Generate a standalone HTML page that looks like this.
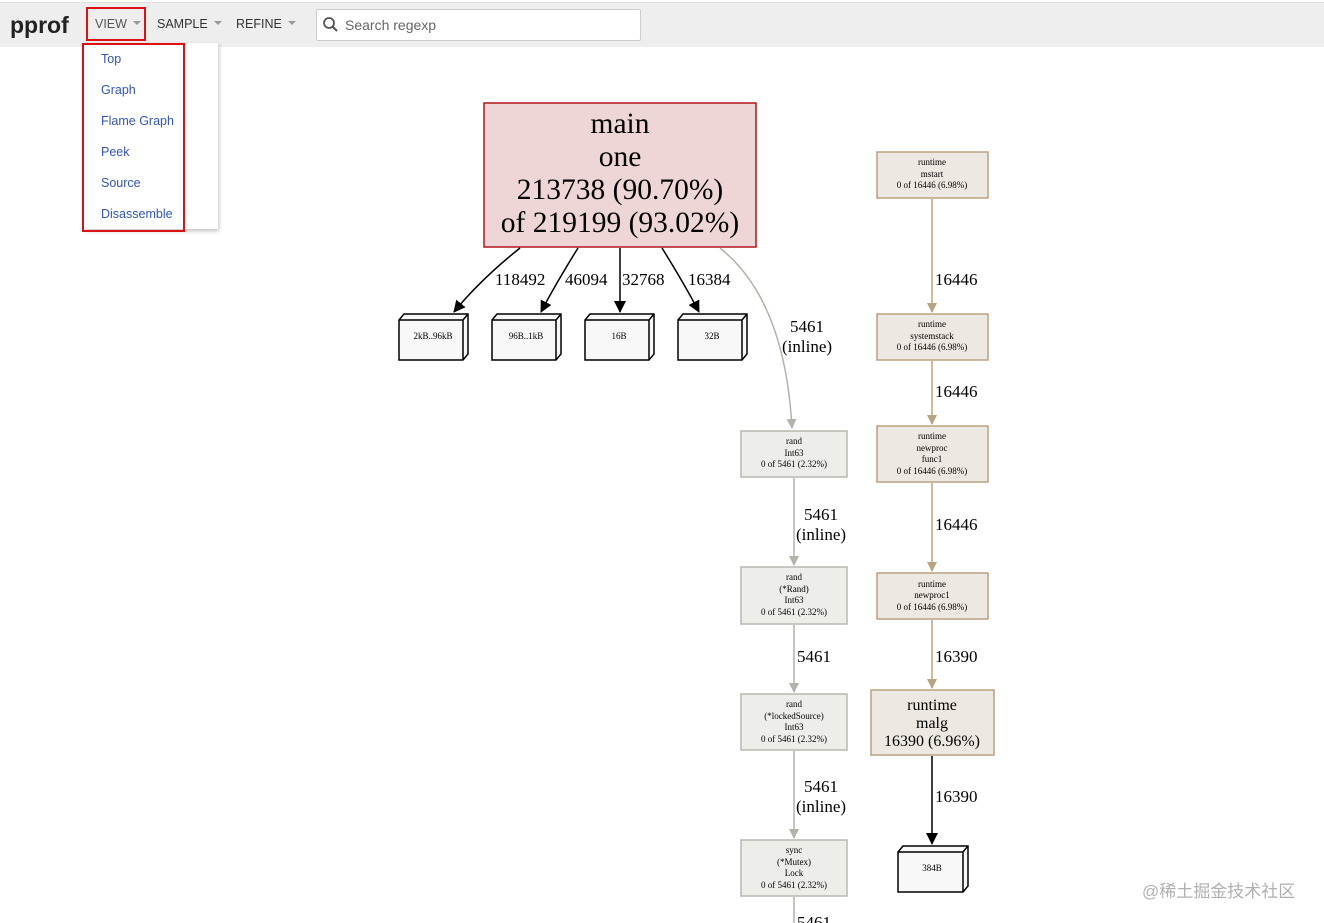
<!DOCTYPE html>
<html><head><meta charset="utf-8"><style>
body{margin:0;width:1324px;height:923px;overflow:hidden;background:#fff;font-family:"Liberation Sans",sans-serif;position:relative}
.hdr{position:absolute;left:0;top:2px;width:1324px;height:44px;background:#eeeeee;border-top:1px solid #ddd}
.logo{position:absolute;left:10px;top:12px;font-size:23px;font-weight:bold;color:#222}
.mi{position:absolute;top:17px;font-size:12.5px;color:#333}
.car{display:inline-block;width:0;height:0;border-left:4px solid transparent;border-right:4px solid transparent;border-top:4px solid #999;margin-left:6px;vertical-align:3px}
.search{position:absolute;left:316px;top:9px;width:323px;height:30px;background:#fff;border:1px solid #ccc;border-radius:2px}
.search span{position:absolute;left:28px;top:7px;font-size:14px;color:#666}
.menu{position:absolute;left:84px;top:43px;width:134px;height:186px;background:#fff;box-shadow:1px 2px 4px rgba(0,0,0,.25)}
.menu div{position:absolute;left:17px;font-size:12.5px;color:#3355bb}
.red{position:absolute;border:2px solid #dd1111}
.wm{position:absolute;left:1142px;top:877px;font-size:17px;color:#b0b0b0;font-family:"Liberation Sans","Noto Sans CJK SC",sans-serif}
svg{position:absolute;left:0;top:0}
</style></head><body>
<svg width="1324" height="923" font-family="Liberation Serif,serif">
<defs>
<marker id="ak" markerWidth="12" markerHeight="12" refX="11" refY="6" orient="auto" markerUnits="userSpaceOnUse"><path d="M0,0 L12,6 L0,12z" fill="#000"/></marker>
<marker id="ag" markerWidth="10" markerHeight="10" refX="9" refY="5" orient="auto" markerUnits="userSpaceOnUse"><path d="M0,0 L10,5 L0,10z" fill="#b2b2a8"/></marker>
<marker id="at" markerWidth="10" markerHeight="10" refX="9" refY="5" orient="auto" markerUnits="userSpaceOnUse"><path d="M0,0 L10,5 L0,10z" fill="#b8a280"/></marker>
</defs>
<rect x="484" y="103" width="272" height="144" fill="#edd6d5" stroke="#b2161a" stroke-width="1.5"/>
<g font-size="29.5" text-anchor="middle" fill="#000">
<text x="620" y="133">main</text><text x="620" y="166">one</text><text x="620" y="199">213738 (90.70%)</text><text x="620" y="232">of 219199 (93.02%)</text></g>
<g stroke="#000" stroke-width="1.5" fill="none" marker-end="url(#ak)">
<path d="M520,248 Q480,280 454,312"/><path d="M578,248 Q555,285 541,312"/><path d="M620,248 L620,312"/><path d="M662,248 Q685,285 699,312"/></g>
<g font-size="17" fill="#000"><text x="495" y="285">118492</text><text x="565" y="285">46094</text><text x="622" y="285">32768</text><text x="688" y="285">16384</text></g>
<g stroke="#000" stroke-width="1.5" fill="#f8f8f8">
<g transform="translate(399,314)"><path d="M0,6 L5,0 L69,0 L69,40 L64,46 L0,46z"/><path d="M0,6 L64,6 L64,46 M64,6 L69,0" fill="none"/></g>
<g transform="translate(492,314)"><path d="M0,6 L5,0 L69,0 L69,40 L64,46 L0,46z"/><path d="M0,6 L64,6 L64,46 M64,6 L69,0" fill="none"/></g>
<g transform="translate(585,314)"><path d="M0,6 L5,0 L69,0 L69,40 L64,46 L0,46z"/><path d="M0,6 L64,6 L64,46 M64,6 L69,0" fill="none"/></g>
<g transform="translate(678,314)"><path d="M0,6 L5,0 L69,0 L69,40 L64,46 L0,46z"/><path d="M0,6 L64,6 L64,46 M64,6 L69,0" fill="none"/></g>
<g transform="translate(898,846)"><path d="M0,6 L5,0 L70,0 L70,40 L65,46 L0,46z"/><path d="M0,6 L65,6 L65,46 M65,6 L70,0" fill="none"/></g>
</g>
<g font-size="9" text-anchor="middle"><text x="433" y="339">2kB..96kB</text><text x="526" y="339">96B..1kB</text><text x="619" y="339">16B</text><text x="712" y="339">32B</text><text x="932" y="871">384B</text></g>
<path d="M720,248 Q785,300 792,428" stroke="#b2b2a8" stroke-width="1.5" fill="none" marker-end="url(#ag)"/>
<g stroke="#b2b2a8" stroke-width="1.5" marker-end="url(#ag)"><path d="M794,478 L794,565"/><path d="M794,625 L794,692"/><path d="M794,751 L794,838"/></g>
<path d="M794,897 L794,923" stroke="#b2b2a8" stroke-width="1.5"/>
<g fill="#ededea" stroke="#b8b8b0" stroke-width="1.5">
<rect x="741" y="431" width="106" height="46"/><rect x="741" y="567" width="106" height="57"/><rect x="741" y="694" width="106" height="56"/><rect x="741" y="840" width="106" height="56"/></g>
<g font-size="9" text-anchor="middle">
<text x="794" y="444">rand</text><text x="794" y="456">Int63</text><text x="794" y="467">0 of 5461 (2.32%)</text>
<text x="794" y="580">rand</text><text x="794" y="592">(*Rand)</text><text x="794" y="603">Int63</text><text x="794" y="615">0 of 5461 (2.32%)</text>
<text x="794" y="707">rand</text><text x="794" y="719">(*lockedSource)</text><text x="794" y="730">Int63</text><text x="794" y="742">0 of 5461 (2.32%)</text>
<text x="794" y="853">sync</text><text x="794" y="865">(*Mutex)</text><text x="794" y="876">Lock</text><text x="794" y="888">0 of 5461 (2.32%)</text></g>
<g font-size="17"><text x="790" y="332">5461</text><text x="782" y="352">(inline)</text>
<text x="804" y="520">5461</text><text x="796" y="540">(inline)</text>
<text x="797" y="662">5461</text>
<text x="804" y="792">5461</text><text x="796" y="812">(inline)</text>
<text x="797" y="928">5461</text></g>
<g stroke="#b8a280" stroke-width="1.5" marker-end="url(#at)"><path d="M932,199 L932,312"/><path d="M932,361 L932,424"/><path d="M932,483 L932,571"/><path d="M932,620 L932,688"/></g>
<path d="M932,756 L932,844" stroke="#000" stroke-width="1.5" marker-end="url(#ak)"/>
<g fill="#ede8e1" stroke="#b8a280" stroke-width="1.5">
<rect x="877" y="152" width="111" height="46"/><rect x="877" y="314" width="111" height="46"/><rect x="877" y="426" width="111" height="56"/><rect x="877" y="573" width="111" height="46"/><rect x="871" y="690" width="123" height="65"/></g>
<g font-size="9" text-anchor="middle">
<text x="932" y="165">runtime</text><text x="932" y="177">mstart</text><text x="932" y="188">0 of 16446 (6.98%)</text>
<text x="932" y="327">runtime</text><text x="932" y="339">systemstack</text><text x="932" y="350">0 of 16446 (6.98%)</text>
<text x="932" y="439">runtime</text><text x="932" y="451">newproc</text><text x="932" y="462">func1</text><text x="932" y="474">0 of 16446 (6.98%)</text>
<text x="932" y="587">runtime</text><text x="932" y="598">newproc1</text><text x="932" y="610">0 of 16446 (6.98%)</text></g>
<g font-size="16" text-anchor="middle"><text x="932" y="710">runtime</text><text x="932" y="728">malg</text><text x="932" y="746">16390 (6.96%)</text></g>
<g font-size="17"><text x="935" y="285">16446</text><text x="935" y="397">16446</text><text x="935" y="530">16446</text><text x="935" y="662">16390</text><text x="935" y="802">16390</text></g>
</svg>
<div class="hdr"></div>
<div class="logo">pprof</div>
<div class="mi" style="left:95px;color:#555">VIEW<span class="car"></span></div>
<div class="mi" style="left:157px">SAMPLE<span class="car"></span></div>
<div class="mi" style="left:236px">REFINE<span class="car"></span></div>
<div class="search"><svg width="20" height="20" style="left:4px;top:5px"><circle cx="8" cy="8" r="5" stroke="#555" stroke-width="1.8" fill="none"/><path d="M12 12 L16 16" stroke="#555" stroke-width="2"/></svg><span>Search regexp</span></div>
<div class="menu"><div style="top:9px">Top</div><div style="top:40px">Graph</div><div style="top:71px">Flame Graph</div><div style="top:102px">Peek</div><div style="top:133px">Source</div><div style="top:164px">Disassemble</div></div>
<div class="red" style="left:86px;top:7px;width:56px;height:30px"></div>
<div class="red" style="left:82px;top:43px;width:99px;height:185px"></div>
<div class="wm">@稀土掘金技术社区</div>
</body></html>
